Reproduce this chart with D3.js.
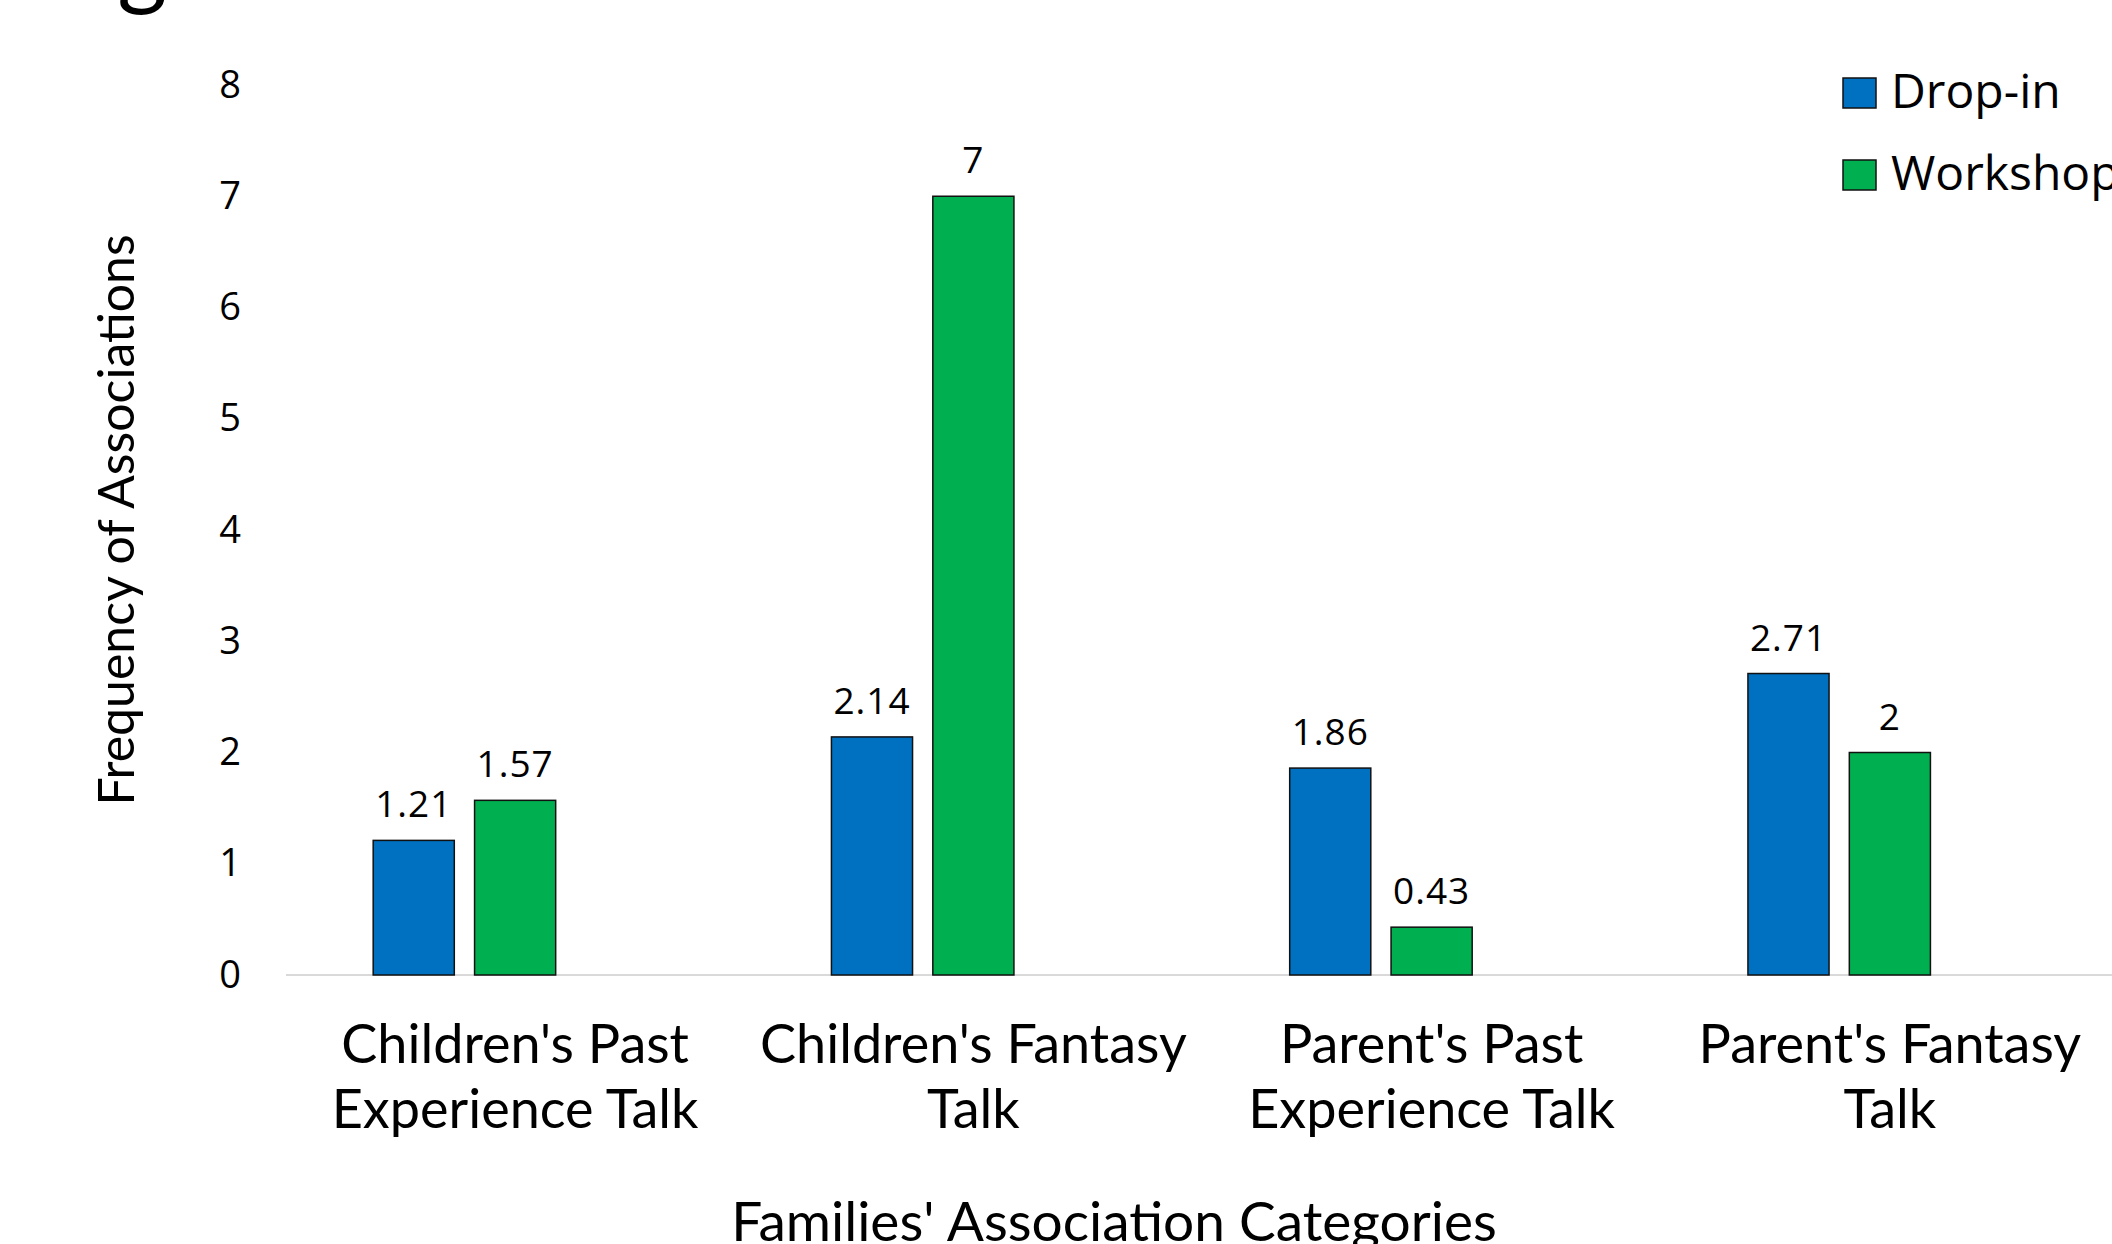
<!DOCTYPE html>
<html>
<head>
<meta charset="utf-8">
<script src="https://cdn.jsdelivr.net/npm/d3@7"></script>
<style>
  html, body { margin: 0; padding: 0; background: #fff; overflow: hidden; }
  svg { display: block; }
</style>
</head>
<body>
<div id="chart"></div>
<script>
const categories = [
  ["Children's Past", 'Experience Talk'],
  ["Children's Fantasy", 'Talk'],
  ["Parent's Past", 'Experience Talk'],
  ["Parent's Fantasy", 'Talk']
];
const seriesNames = ['Drop-in', 'Workshop'];
const dropIn = [1.21, 2.14, 1.86, 2.71];
const workshop = [1.57, 7, 0.43, 2];
const yTicks = [0, 1, 2, 3, 4, 5, 6, 7, 8];
const colors = ['#0070C0', '#00B050'];

const width = 2112;
const height = 1244;
const titleFont = 'Lato, "Open Sans", sans-serif';
const numFont = '"Open Sans", "Noto Sans", sans-serif';

const svg = d3.select('#chart').append('svg')
  .attr('width', width)
  .attr('height', height);

// plot area runs a little past the right edge, as in the original
const x0 = d3.scaleBand()
  .domain(categories.map((c, i) => i))
  .range([286, 2119]);
// Excel kept room for a third (empty) series in each group
const x1 = d3.scaleBand()
  .domain([0, 1, 2])
  .range([0, x0.bandwidth()])
  .paddingInner(0.2)
  .paddingOuter(0.86);
const y = d3.scaleLinear()
  .domain([0, 8])
  .range([975, 85]);

// cut-off figure caption at the very top, only the descender shows
svg.append('text')
  .attr('x', 40)
  .attr('y', -3)
  .attr('font-family', titleFont)
  .attr('font-size', 96)
  .attr('fill', '#000')
  .text('Figure');

// y axis labels
const yAxis = svg.append('g')
  .attr('transform', 'translate(286,0)')
  .call(d3.axisLeft(y).tickValues(yTicks).tickSize(0).tickPadding(45));
yAxis.select('.domain').remove();
yAxis.selectAll('text')
  .attr('font-family', numFont)
  .attr('font-size', 38)
  .attr('fill', '#000');

// baseline
svg.append('line')
  .attr('x1', 286)
  .attr('x2', width)
  .attr('y1', y(0))
  .attr('y2', y(0))
  .attr('stroke', '#d9d9d9')
  .attr('stroke-width', 2);

const rows = categories.map((c, i) => [dropIn[i], workshop[i]]);

const groups = svg.selectAll('g.grp')
  .data(rows)
  .join('g')
  .attr('class', 'grp')
  .attr('transform', (d, i) => `translate(${x0(i)},0)`);

groups.selectAll('rect')
  .data(d => d)
  .join('rect')
  .attr('x', (d, j) => x1(j))
  .attr('y', d => y(d))
  .attr('width', x1.bandwidth())
  .attr('height', d => y(0) - y(d))
  .attr('fill', (d, j) => colors[j])
  .attr('stroke', '#111')
  .attr('stroke-width', 1.5);

groups.selectAll('text.val')
  .data(d => d)
  .join('text')
  .attr('class', 'val')
  .attr('x', (d, j) => x1(j) + x1.bandwidth() / 2)
  .attr('y', d => y(d) - 23)
  .attr('text-anchor', 'middle')
  .attr('font-family', numFont)
  .attr('font-size', 37)
  .attr('letter-spacing', 1)
  .attr('fill', '#000')
  .text(d => d);

// category labels (two lines each)
const catLabels = svg.selectAll('text.cat')
  .data(categories)
  .join('text')
  .attr('class', 'cat')
  .attr('text-anchor', 'middle')
  .attr('font-family', titleFont)
  .attr('font-size', 54)
  .attr('fill', '#000');
catLabels.selectAll('tspan')
  .data((d, i) => d.map(line => ({ line, i })))
  .join('tspan')
  .attr('x', d => x0(d.i) + x0.bandwidth() / 2)
  .attr('y', (d, k) => 1063 + k * 65)
  .text(d => d.line);

// axis titles
svg.append('text')
  .attr('transform', 'translate(134,520) rotate(-90)')
  .attr('text-anchor', 'middle')
  .attr('font-family', titleFont)
  .attr('font-size', 50)
  .attr('fill', '#000')
  .text('Frequency of Associations');

svg.append('text')
  .attr('x', 1114)
  .attr('y', 1241)
  .attr('text-anchor', 'middle')
  .attr('font-family', titleFont)
  .attr('font-size', 55)
  .attr('fill', '#000')
  .text("Families' Association Categories");

// legend
const legend = svg.selectAll('g.leg')
  .data(seriesNames)
  .join('g')
  .attr('class', 'leg')
  .attr('transform', (d, i) => `translate(1843,${78 + i * 82})`);
legend.append('rect')
  .attr('width', 33)
  .attr('height', 30)
  .attr('fill', (d, i) => colors[i])
  .attr('stroke', '#111')
  .attr('stroke-width', 1.5);
legend.append('text')
  .attr('x', 48)
  .attr('y', 30)
  .attr('font-family', numFont)
  .attr('font-size', 48)
  .attr('fill', '#000')
  .text(d => d);
</script>
</body>
</html>
